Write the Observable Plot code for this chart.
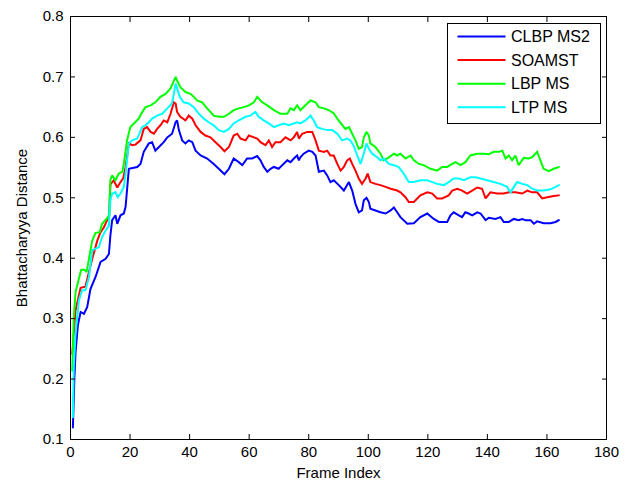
<!DOCTYPE html>
<html>
<head>
<meta charset="utf-8">
<script src="https://cdn.jsdelivr.net/npm/d3@7"></script>
<script src="https://cdn.jsdelivr.net/npm/@observablehq/plot@0.6"></script>
<style>
  html, body { margin: 0; padding: 0; background: #fff; }
  #wrap { position: relative; width: 633px; height: 481px; }
  #legend { position: absolute; left: 447px; top: 23px; }
</style>
</head>
<body>
<div id="wrap"></div>
<script>
const xTicks = [0, 20, 40, 60, 80, 100, 120, 140, 160, 180];
const yTicks = [0.1, 0.2, 0.3, 0.4, 0.5, 0.6, 0.7, 0.8];
const seriesNames = ["CLBP MS2", "SOAMST", "LBP MS", "LTP MS"];
const seriesColors = ["#0000ff", "#ff0000", "#00ff00", "#00ffff"];

// [frame, Bhattacharyya distance]
const clbpMS2 = [[0.8,0.120],[1.3,0.200],[1.7,0.245],[2.5,0.290],[3.4,0.311],[4.5,0.308],[5.6,0.319],[6.7,0.349],[8.4,0.369],[10.1,0.394],[11.8,0.399],[12.9,0.407],[13.4,0.438],[14,0.463],[15.1,0.471],[15.7,0.457],[16.8,0.471],[17.9,0.474],[18.5,0.485],[19.6,0.548],[22.4,0.551],[23.5,0.556],[24.6,0.576],[26.3,0.590],[27.4,0.592],[28.5,0.578],[29.7,0.584],[31.3,0.592],[32.5,0.600],[34.1,0.606],[35.3,0.625],[35.8,0.628],[36.4,0.612],[37.5,0.595],[38.6,0.590],[39.7,0.595],[40.9,0.592],[42,0.578],[43.7,0.570],[45.9,0.565],[48.1,0.556],[49.8,0.548],[51.7,0.539],[53.2,0.548],[54.8,0.565],[56.5,0.559],[57.7,0.554],[59.3,0.565],[61,0.565],[62.7,0.569],[63.8,0.562],[64.9,0.551],[66.1,0.543],[67.2,0.548],[68.3,0.551],[69.9,0.548],[71.1,0.554],[72.8,0.562],[73.9,0.559],[75,0.565],[76.1,0.570],[76.7,0.562],[77.2,0.567],[78.3,0.573],[80,0.578],[81.2,0.576],[82.3,0.570],[83.4,0.543],[85.1,0.545],[86.2,0.537],[87.3,0.526],[88.4,0.529],[90.1,0.521],[91.8,0.512],[93.5,0.526],[94.6,0.512],[95.7,0.490],[96.8,0.476],[97.9,0.479],[98.5,0.496],[99.4,0.500],[100.2,0.493],[100.7,0.482],[102.4,0.479],[104.1,0.476],[105.8,0.474],[107.5,0.479],[108.6,0.484],[109.7,0.476],[110.8,0.468],[113.1,0.457],[115.3,0.458],[117.5,0.468],[119.8,0.474],[122,0.465],[123.7,0.460],[126.5,0.460],[127.6,0.471],[128.7,0.476],[130.4,0.471],[131.5,0.468],[132.6,0.476],[133.7,0.474],[134.9,0.471],[136.6,0.476],[137.7,0.474],[139.4,0.463],[140.5,0.467],[142.7,0.465],[144.4,0.468],[145.5,0.460],[147.2,0.460],[148.9,0.465],[150.5,0.463],[151.7,0.465],[152.8,0.463],[154.5,0.463],[155.6,0.457],[156.7,0.461],[158.9,0.458],[161.2,0.458],[162.9,0.460],[164,0.463]];

const soamst = [[0.6,0.242],[1.7,0.314],[3.4,0.351],[5,0.353],[6.2,0.377],[7.3,0.399],[9,0.429],[10.1,0.443],[11.2,0.451],[12.3,0.463],[13,0.470],[13.4,0.522],[14.5,0.529],[15.7,0.517],[16.8,0.526],[17.7,0.532],[18.5,0.551],[19.6,0.590],[20.7,0.587],[21.8,0.588],[23.5,0.595],[24.6,0.614],[25.7,0.617],[26.9,0.609],[28,0.606],[29.1,0.614],[30.2,0.620],[31.3,0.628],[32.5,0.625],[33.6,0.639],[34.7,0.658],[35.3,0.656],[35.8,0.642],[36.9,0.634],[38.6,0.628],[39.7,0.636],[40.9,0.631],[42,0.620],[43.7,0.609],[45.3,0.603],[47,0.600],[48.7,0.592],[50.4,0.584],[51.7,0.577],[53.2,0.584],[54.8,0.603],[56,0.606],[57.1,0.598],[58.8,0.595],[59.9,0.603],[61.6,0.600],[62.7,0.598],[63.8,0.592],[65.5,0.587],[66.6,0.595],[67.7,0.584],[68.8,0.592],[70.5,0.592],[72.2,0.600],[73.9,0.595],[75,0.600],[76.1,0.609],[76.7,0.598],[77.8,0.606],[79.5,0.609],[81.2,0.609],[82.3,0.595],[83.4,0.578],[85.1,0.576],[86.2,0.578],[87.3,0.570],[88.4,0.570],[89.6,0.556],[90.7,0.545],[91.8,0.551],[92.9,0.562],[93.8,0.565],[94.6,0.556],[95.7,0.545],[96.8,0.532],[97.9,0.523],[99.1,0.532],[99.8,0.540],[100.7,0.526],[102.4,0.523],[104.1,0.521],[105.8,0.518],[107.5,0.515],[109.7,0.512],[110.8,0.509],[112.5,0.501],[113.6,0.493],[115.3,0.493],[117.5,0.504],[119.8,0.509],[121.5,0.507],[123.1,0.499],[124.8,0.499],[127,0.504],[128.2,0.512],[129.9,0.515],[131.5,0.512],[133.2,0.507],[134.9,0.512],[136.6,0.517],[138.2,0.515],[139.4,0.499],[141,0.509],[143.3,0.507],[145.5,0.507],[147.2,0.509],[149.4,0.509],[151.7,0.507],[153.4,0.512],[155,0.509],[156.7,0.509],[158.4,0.499],[160.1,0.501],[162.3,0.503],[164,0.504]];

const lbpMS = [[0.6,0.214],[1.1,0.302],[1.7,0.344],[2.8,0.366],[3.6,0.381],[4.7,0.381],[5.4,0.377],[6.2,0.399],[7.3,0.429],[8.4,0.442],[9.8,0.443],[10.6,0.457],[12.1,0.465],[12.9,0.471],[13.4,0.530],[14,0.537],[15.1,0.529],[16.2,0.540],[17.4,0.543],[17.9,0.556],[19,0.595],[20.1,0.617],[21.3,0.623],[22.9,0.631],[24.1,0.642],[25.2,0.650],[26.9,0.653],[28.5,0.658],[30.2,0.667],[31.9,0.672],[33.6,0.681],[35.3,0.700],[35.8,0.694],[36.9,0.683],[38.6,0.675],[40.3,0.672],[41.4,0.667],[42.5,0.661],[44.2,0.658],[45.9,0.648],[48.1,0.636],[49.8,0.634],[51.5,0.634],[53.2,0.639],[54.8,0.645],[56.5,0.648],[58.2,0.650],[59.9,0.653],[61.6,0.658],[62.7,0.667],[64.4,0.658],[66.1,0.653],[68.3,0.645],[70.5,0.639],[72.8,0.639],[73.9,0.648],[75,0.645],[76.1,0.653],[77.2,0.645],[78.9,0.653],[80.6,0.661],[82.3,0.658],[83.4,0.650],[85.1,0.648],[86.7,0.645],[88.4,0.640],[89.6,0.631],[91,0.622],[92.3,0.614],[93.5,0.617],[94.6,0.606],[95.7,0.595],[96.8,0.581],[97.9,0.584],[98.5,0.600],[99.4,0.609],[100.2,0.603],[100.7,0.590],[102.4,0.584],[104.1,0.573],[105.2,0.562],[106.9,0.567],[108.6,0.573],[109.7,0.570],[110.8,0.573],[112.5,0.565],[114.2,0.570],[115.3,0.562],[117,0.556],[118.6,0.554],[120.9,0.548],[123.1,0.545],[124.8,0.551],[126.5,0.551],[128.2,0.556],[129.3,0.559],[131,0.554],[132.6,0.559],[134.3,0.570],[136.6,0.573],[138.8,0.573],[140.5,0.572],[142.1,0.576],[143.8,0.576],[145,0.578],[146.1,0.565],[147.2,0.570],[148.3,0.562],[149.4,0.570],[150.5,0.554],[152.2,0.566],[153.9,0.565],[155,0.567],[156.7,0.576],[157.8,0.562],[158.9,0.548],[160.6,0.544],[162.3,0.548],[164,0.551]];

const ltpMS = [[0.8,0.137],[1.1,0.220],[1.7,0.275],[2.8,0.330],[3.9,0.347],[5,0.347],[6.2,0.369],[7.3,0.413],[8.4,0.416],[9.5,0.418],[10.6,0.435],[11.8,0.446],[12.9,0.454],[13.2,0.479],[13.4,0.496],[14,0.507],[15.1,0.509],[15.9,0.501],[16.8,0.507],[17.9,0.518],[18.5,0.540],[19.6,0.590],[20.7,0.595],[22.4,0.598],[24.1,0.617],[25.2,0.620],[26.3,0.625],[27.4,0.631],[29.1,0.636],[30.8,0.639],[32.5,0.648],[34.1,0.656],[35.3,0.689],[35.8,0.681],[36.7,0.667],[38,0.658],[39.7,0.656],[41.4,0.650],[43.1,0.639],[44.8,0.631],[46.4,0.625],[48.1,0.620],[49.8,0.612],[51.5,0.609],[53.2,0.614],[54.8,0.623],[56.5,0.628],[58.8,0.634],[60.4,0.636],[62.1,0.642],[63.2,0.634],[64.9,0.628],[66.6,0.623],[68.3,0.617],[69.9,0.620],[71.6,0.623],[73.3,0.620],[75,0.623],[76.1,0.625],[77.2,0.623],[78.9,0.628],[80.6,0.636],[81.7,0.628],[82.8,0.617],[84.5,0.614],[86.2,0.612],[87.9,0.612],[89.6,0.606],[91.2,0.595],[92.9,0.598],[94,0.595],[95.1,0.586],[96.3,0.570],[97.4,0.556],[98.5,0.573],[99.4,0.590],[100.2,0.581],[101.3,0.573],[103,0.567],[104.1,0.562],[105.2,0.565],[106.9,0.556],[108.6,0.554],[110.2,0.551],[111.9,0.540],[113.6,0.526],[115.3,0.526],[117.5,0.529],[119.8,0.529],[121.5,0.526],[123.1,0.523],[125.4,0.521],[127,0.526],[128.7,0.532],[130.4,0.532],[132.1,0.529],[134.3,0.534],[136,0.534],[137.7,0.532],[139.9,0.529],[142.1,0.526],[144.4,0.523],[146.6,0.518],[147.8,0.509],[148.9,0.518],[150,0.526],[151.7,0.523],[153.4,0.521],[155,0.515],[156.7,0.512],[158.9,0.512],[161.2,0.514],[162.9,0.518],[164,0.521]];

const seriesData = [clbpMS2, soamst, lbpMS, ltpMS];

const font = "'Liberation Sans', Arial, Helvetica, sans-serif";
const fs = 15;

const lineMarks = seriesData.map((d, i) =>
  Plot.line(d, {x: d => d[0], y: d => d[1], stroke: seriesColors[i], strokeWidth: 2, strokeLinejoin: "miter", strokeMiterlimit: 2})
);

const chart = Plot.plot({
  width: 633,
  height: 481,
  marginLeft: 70,
  marginRight: 27,
  marginTop: 16,
  marginBottom: 42,
  style: {fontFamily: font, fontSize: fs + "px", color: "#000", background: "#fff", overflow: "visible"},
  x: {domain: [0, 180]},
  y: {domain: [0.1, 0.8]},
  marks: [
    ...lineMarks,
    Plot.frame({stroke: "#000", strokeWidth: 1}),
    Plot.axisX(xTicks, {anchor: "bottom", tickSize: -5, tickPadding: 12, label: null, fontSize: fs, fill: "#000"}),
    Plot.axisX(xTicks, {anchor: "top", tickSize: -5, tickFormat: () => "", label: null}),
    Plot.axisY(yTicks, {anchor: "left", tickSize: -5, tickPadding: 12, label: null, fontSize: fs, fill: "#000", tickFormat: d3.format(".1f")}),
    Plot.axisY(yTicks, {anchor: "right", tickSize: -5, tickFormat: () => "", label: null}),
    Plot.text(["Frame Index"], {frameAnchor: "bottom", dy: 34, lineAnchor: "middle", fontSize: fs, fill: "#000"}),
    Plot.text(["Bhattacharyya Distance"], {frameAnchor: "left", dx: -48, rotate: -90, lineAnchor: "middle", textAnchor: "middle", fontSize: fs, fill: "#000"})
  ]
});

const wrap = document.getElementById("wrap");
wrap.appendChild(chart);

// Legend (inside the axes, top-right)
const rowH = 23.6;
const lg = d3.create("svg")
  .attr("id", "legend")
  .attr("width", 154)
  .attr("height", 101)
  .style("font-family", font)
  .style("font-size", "16px");
lg.append("rect").attr("x", 0.5).attr("y", 0.5).attr("width", 153).attr("height", 100)
  .attr("fill", "#fff").attr("stroke", "#000").attr("stroke-width", 1);
seriesNames.forEach((name, i) => {
  const cy = 13.5 + i * rowH;
  lg.append("line").attr("x1", 10.5).attr("x2", 58.5).attr("y1", cy).attr("y2", cy)
    .attr("stroke", seriesColors[i]).attr("stroke-width", 2);
  lg.append("text").attr("x", 64).attr("y", cy).attr("dy", "0.35em").attr("fill", "#000").text(name);
});
wrap.appendChild(lg.node());
</script>
</body>
</html>
